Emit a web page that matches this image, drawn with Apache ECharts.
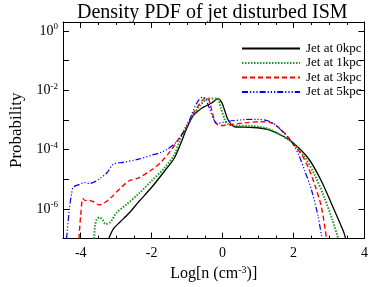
<!DOCTYPE html>
<html><head><meta charset="utf-8">
<script src="https://cdn.jsdelivr.net/npm/echarts@6/dist/echarts.min.js"></script>
<style>html,body{margin:0;padding:0;background:#fff}#c{width:371px;height:287px}</style>
</head><body><div id="c"></div>
<script>
// Series names
const seriesNames = ['Jet at 0kpc', 'Jet at 1kpc', 'Jet at 3kpc', 'Jet at 5kpc'];
// x = Log[n (cm^-3)], values given as log10(Probability)
const x0 = [-3.21,-3.08,-2.90,-2.63,-2.36,-2.0,-1.64,-1.37,-1.19,-1.01,-0.83,-0.74,-0.56,-0.47,-0.30,-0.13,-0.03,0.05,0.16,0.34,0.79,1.24,1.61,1.96,2.42,2.78,3.14,3.41,3.47];
const lp0 = [-7.0,-6.67,-6.45,-6.13,-5.75,-5.27,-4.73,-4.30,-3.82,-3.28,-2.85,-2.75,-2.58,-2.53,-2.42,-2.28,-2.40,-2.65,-3.01,-3.23,-3.25,-3.31,-3.49,-3.74,-4.30,-5.05,-6.02,-6.77,-7.0];
const x1 = [-3.62,-3.60,-3.55,-3.48,-3.39,-3.30,-3.17,-2.99,-2.72,-2.36,-2.0,-1.64,-1.37,-1.19,-1.01,-0.83,-0.65,-0.50,-0.38,-0.15,-0.05,0.05,0.12,0.34,0.79,1.24,1.61,1.96,2.32,2.59,2.86,3.09,3.26];
const lp1 = [-7.0,-6.6,-6.35,-6.29,-6.35,-6.51,-6.45,-6.13,-5.86,-5.48,-5.05,-4.62,-4.19,-3.65,-3.17,-2.85,-2.53,-2.35,-2.28,-2.28,-2.60,-2.95,-3.12,-3.19,-3.20,-3.28,-3.49,-3.76,-4.25,-4.84,-5.59,-6.35,-7.0];
const x3 = [-4.05,-4.0,-3.94,-3.87,-3.80,-3.66,-3.48,-3.35,-3.12,-2.90,-2.63,-2.36,-2.0,-1.73,-1.46,-1.19,-1.01,-0.83,-0.65,-0.55,-0.45,-0.38,-0.30,-0.20,-0.06,0.16,0.61,1.06,1.42,1.78,1.96,2.24,2.42,2.59,2.78,2.93];
const lp3 = [-7.0,-6.2,-5.65,-5.72,-5.70,-5.75,-5.86,-5.81,-5.59,-5.32,-5.05,-4.95,-4.68,-4.41,-4.03,-3.55,-3.23,-2.80,-2.45,-2.32,-2.24,-2.35,-2.70,-3.10,-3.19,-3.17,-3.10,-3.06,-3.12,-3.49,-3.76,-4.19,-4.62,-5.16,-5.91,-7.0];
const x5 = [-4.40,-4.32,-4.26,-4.21,-4.05,-3.89,-3.75,-3.60,-3.49,-3.26,-3.08,-2.81,-2.36,-2.0,-1.73,-1.55,-1.28,-1.01,-0.83,-0.69,-0.56,-0.48,-0.38,-0.24,-0.15,0.07,0.61,0.97,1.34,1.69,1.96,2.15,2.32,2.51,2.69,2.80];
const lp5 = [-7.0,-6.0,-5.5,-5.27,-5.18,-5.11,-5.14,-5.08,-5.0,-4.78,-4.49,-4.43,-4.32,-4.19,-4.09,-3.98,-3.71,-3.23,-2.69,-2.36,-2.23,-2.30,-2.58,-3.01,-3.12,-3.06,-2.99,-2.98,-3.06,-3.39,-3.76,-4.19,-4.73,-5.38,-6.24,-7.0];
// Axis ticks
const xLabelTicks = [-4, -2, 0, 2, 4];
const yLabelExps = [0, -2, -4, -6];

const FONT = 'Liberation Serif';
function pairs(xs, lps){ return xs.map((x,i)=>[x, Math.pow(10, lps[i])]); }

const chart = echarts.init(document.getElementById('c'), null, {renderer:'canvas'});
const styles = [
  {color:'#000000', width:1.3, type:'solid'},
  {color:'#1f9a1f', width:2, type:[1.5,1.5]},
  {color:'#ff0000', width:1.4, type:[5,3]},
  {color:'#0000ff', width:1.2, type:[6,2,1.2,2,1.2,2,1.2,2]}
];
const datas = [pairs(x0,lp0), pairs(x1,lp1), pairs(x3,lp3), pairs(x5,lp5)];

const yMin = 1e-7, yMax = 2;
function yFmt(v){
  const e = Math.round(Math.log10(v));
  if (Math.abs(Math.log10(v) - e) > 1e-6) return '';
  if (yLabelExps.indexOf(e) < 0) return '';
  return '{b|10}{s|' + e + '}';
}
const axLine = {show:true, onZero:false, lineStyle:{color:'#000', width:1}};
chart.setOption({
  animation:false,
  title:{text:'Density PDF of jet disturbed ISM', left:72, top:-2,
    textStyle:{fontFamily:FONT, fontSize:20, fontWeight:'normal', color:'#000'}},
  grid:{left:50, right:6, top:22, bottom:40},
  legend:{
    data:seriesNames, orient:'vertical', left:236, top:37, itemGap:1.5,
    itemWidth:58, itemHeight:12,
    itemStyle:{opacity:0, borderWidth:0},
    textStyle:{fontFamily:FONT, fontSize:13, color:'#000', padding:[0,0,0,1]}
  },
  xAxis:[
    {type:'value', min:-4.5, max:4, interval:0.5, position:'bottom',
     name:'Log[n (cm{s|-3})]', nameLocation:'middle', nameGap:24,
     nameTextStyle:{fontFamily:FONT, fontSize:16, color:'#000',
       rich:{s:{fontFamily:FONT, fontSize:10, verticalAlign:'bottom', padding:[0,0,7,0]}}},
     axisLine:axLine, splitLine:{show:false},
     axisTick:{inside:true, length:3, lineStyle:{color:'#000'}},
     axisLabel:{fontFamily:FONT, fontSize:14, color:'#000', margin:8,
       formatter:v=> xLabelTicks.indexOf(Math.round(v*100)/100) >= 0 ? String(v) : ''}},
    {type:'value', min:-4.5, max:4, position:'bottom', axisLine:{show:false, onZero:false}, splitLine:{show:false},
     axisTick:{inside:true, length:6, customValues:xLabelTicks, lineStyle:{color:'#000'}},
     axisLabel:{show:false}},
    {type:'value', min:-4.5, max:4, interval:0.5, position:'top', axisLine:axLine, splitLine:{show:false},
     axisTick:{inside:true, length:3, lineStyle:{color:'#000'}}, axisLabel:{show:false}},
    {type:'value', min:-4.5, max:4, position:'top', axisLine:{show:false, onZero:false}, splitLine:{show:false},
     axisTick:{inside:true, length:6, customValues:xLabelTicks, lineStyle:{color:'#000'}},
     axisLabel:{show:false}}
  ],
  yAxis:[
    {type:'log', logBase:10, min:yMin, max:yMax, position:'left',
     name:'Probability', nameLocation:'middle', nameGap:38, nameRotate:90,
     nameTextStyle:{fontFamily:FONT, fontSize:17, color:'#000'},
     axisLine:axLine, splitLine:{show:false},
     axisTick:{inside:true, length:6, lineStyle:{color:'#000'}},
     axisLabel:{fontFamily:FONT, color:'#000', margin:5, formatter:yFmt,
       rich:{b:{fontFamily:FONT, fontSize:14, color:'#000'},
             s:{fontFamily:FONT, fontSize:9, color:'#000', verticalAlign:'bottom', padding:[0,0,8,0]}}}},
    {type:'log', logBase:10, min:yMin, max:yMax, position:'right',
     axisLine:axLine, splitLine:{show:false},
     axisTick:{inside:true, length:6, lineStyle:{color:'#000'}}, axisLabel:{show:false}}
  ],
  series: seriesNames.map((n,i)=>({
    name:n, type:'line', data:datas[i], xAxisIndex:0, yAxisIndex:0,
    showSymbol:false, symbol:'none', smooth:0.3, clip:true,
    lineStyle:styles[i], itemStyle:{color:styles[i].color}
  }))
});
</script></body></html>
